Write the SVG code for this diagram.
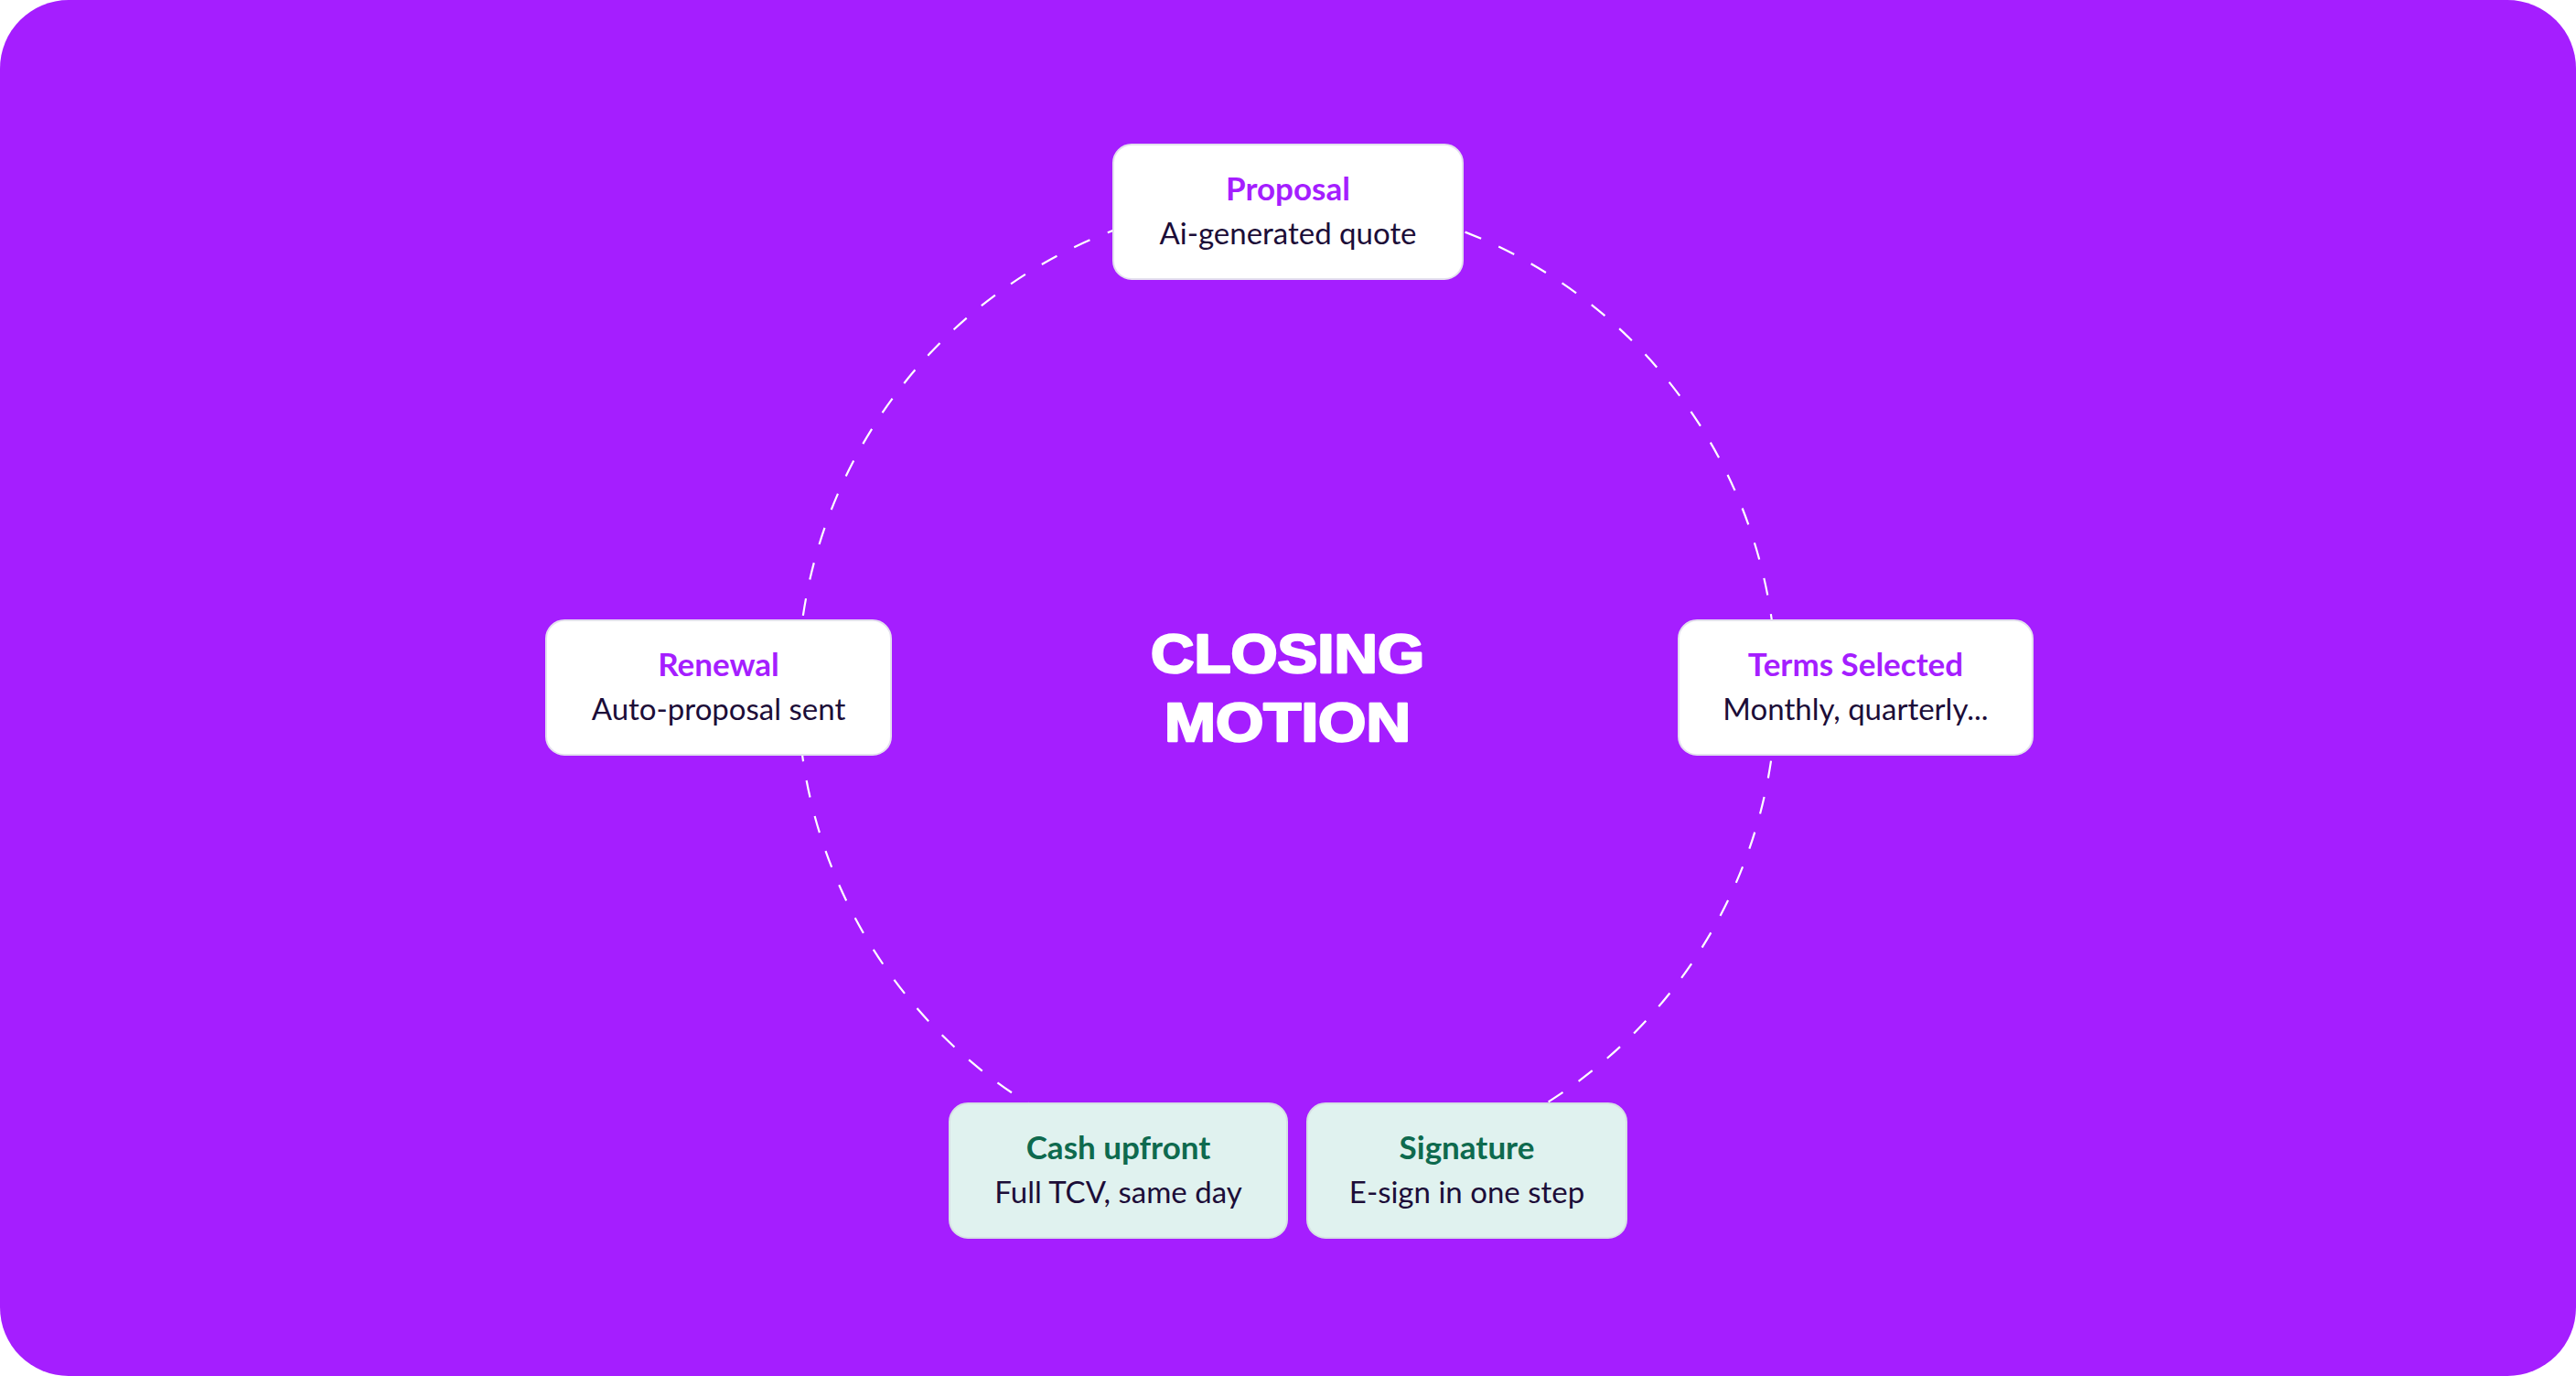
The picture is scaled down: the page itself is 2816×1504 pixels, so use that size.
<svg xmlns="http://www.w3.org/2000/svg" width="2816" height="1504" viewBox="0 0 2816 1504">
  <style>
    .box { fill: #FFFFFF; stroke: #E4E0EE; stroke-width: 2; }
    .gbox { fill: #E0F2EF; stroke: #D6E0E4; stroke-width: 2; }
    .title { font-family: Lato, "Noto Sans", sans-serif; font-weight: 700; font-size: 35px; fill: #A51EFF; text-anchor: middle; }
    .gtitle { font-family: Lato, "Noto Sans", sans-serif; font-weight: 700; font-size: 35px; fill: #0E6A4E; text-anchor: middle; }
    .sub { font-family: Lato, "Noto Sans", sans-serif; font-weight: 400; font-size: 33px; fill: #1C0D38; text-anchor: middle; }
    .center { font-family: "Liberation Sans", Arial, sans-serif; font-weight: 700; font-size: 60px; fill: #FFFFFF; stroke: #FFFFFF; stroke-width: 2.5; stroke-linejoin: round; text-anchor: middle; }
  </style>
  <rect x="0" y="0" width="2816" height="1504" rx="75" ry="75" fill="#A51EFF"/>
  <g id="connectors">
    <circle cx="1407" cy="752" r="535" fill="none" stroke="#FFFFFF" stroke-width="2.2" stroke-dasharray="19 21"/>
  </g>
  <g id="center-label">
    <text class="center" x="1407.5" y="735" textLength="299" lengthAdjust="spacingAndGlyphs">CLOSING</text>
    <text class="center" x="1407.5" y="810" textLength="269" lengthAdjust="spacingAndGlyphs">MOTION</text>
  </g>
  <g id="node-proposal">
    <rect class="box" x="1217" y="158" width="382" height="147" rx="20"/>
    <text class="title" x="1408" y="219">Proposal</text>
    <text class="sub" x="1408" y="267">Ai-generated quote</text>
  </g>
  <g id="node-renewal">
    <rect class="box" x="597" y="678" width="377" height="147" rx="20"/>
    <text class="title" x="785.5" y="739">Renewal</text>
    <text class="sub" x="785.5" y="787">Auto-proposal sent</text>
  </g>
  <g id="node-terms">
    <rect class="box" x="1835" y="678" width="387" height="147" rx="20"/>
    <text class="title" x="2028.5" y="739">Terms Selected</text>
    <text class="sub" x="2028.5" y="787">Monthly, quarterly...</text>
  </g>
  <g id="node-cash">
    <rect class="gbox" x="1038" y="1206" width="369" height="147" rx="20"/>
    <text class="gtitle" x="1222.5" y="1267">Cash upfront</text>
    <text class="sub" x="1222.5" y="1315">Full TCV, same day</text>
  </g>
  <g id="node-signature">
    <rect class="gbox" x="1429" y="1206" width="349" height="147" rx="20"/>
    <text class="gtitle" x="1603.5" y="1267">Signature</text>
    <text class="sub" x="1603.5" y="1315">E-sign in one step</text>
  </g>
</svg>
